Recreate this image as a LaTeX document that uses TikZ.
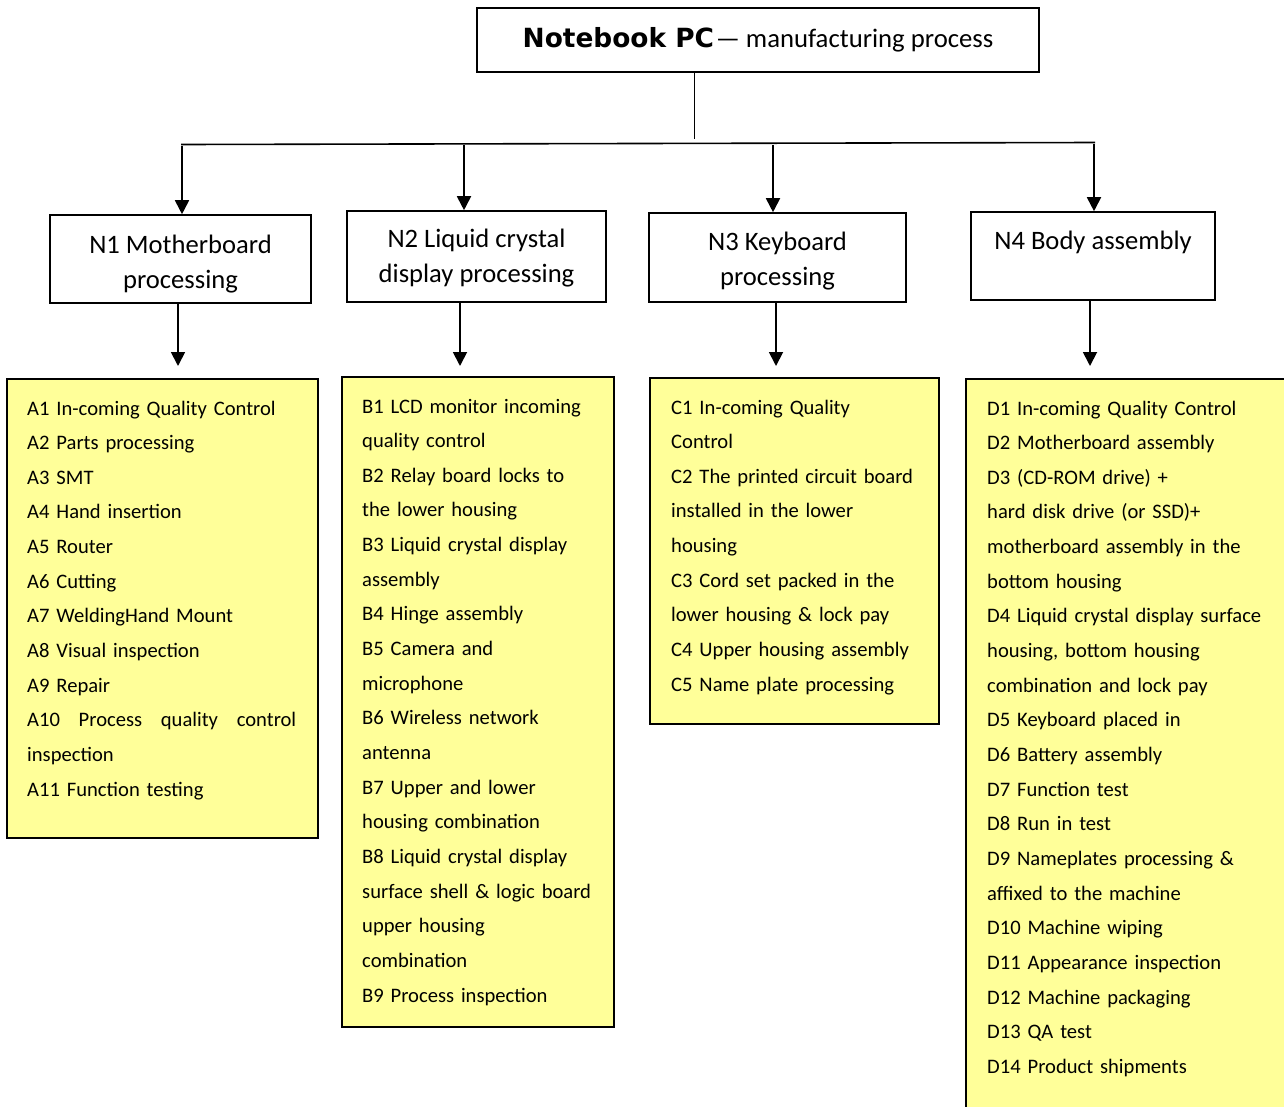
\documentclass[tikz,border=0pt]{standalone}
\usepackage{fontspec}
\setmainfont{Carlito}
\newfontfamily\titlefont{DejaVu Sans}
\usetikzlibrary{arrows.meta}
\definecolor{listyellow}{HTML}{FFFF99}
\begin{document}
\begin{tikzpicture}[x=1pt,y=-1pt,
  box/.style={draw, line width=1.6pt, inner sep=0pt},
  headbox/.style={box, fill=white},
  headtext/.style={inner sep=0pt, align=center, font=\fontsize{26.6}{35}\selectfont},
  listbox/.style={box, fill=listyellow},
  listtext/.style={anchor=base west, inner sep=0pt, text width=#1, align=left, font=\fontsize{20.6}{34.65}\selectfont},
  arr/.style={line width=1.8pt, -{Triangle[width=14pt,length=14pt]}},
  conn/.style={line width=1.6pt}]
\useasboundingbox (0,0) rectangle (1284,1106);
\clip (0,0) rectangle (1284,1106);

% title
\node[box, minimum width=562pt, minimum height=64pt] (title) at (758,40)
  {{\titlefont\bfseries\fontsize{26.4}{30}\selectfont Notebook PC}\,{\fontsize{26.7}{30}\selectfont — manufacturing process}};

% second level boxes
\node[headbox, minimum width=261pt, minimum height=88pt] (N1) at (180.5,259) {};
\node[headbox, minimum width=259pt, minimum height=91pt] (N2) at (476.5,256.5) {};
\node[headbox, minimum width=257pt, minimum height=89pt] (N3) at (777.5,257.5) {};
\node[headbox, minimum width=244pt, minimum height=88pt] (N4) at (1093,256) {};
\node[headtext] (N1t) at ([yshift=-5pt]N1.center) {N1 Motherboard\\processing};
\node[headtext] (N2t) at ([yshift=-2pt]N2.center) {N2 Liquid crystal\\display processing};
\node[headtext] (N3t) at ([yshift=-3.5pt]N3.center) {N3 Keyboard\\processing};
\node[headtext, anchor=base] (N4t) at (1093,249) {N4 Body assembly};

% list boxes
\node[listbox, minimum width=311pt, minimum height=459pt] (A) at (162.5,608.5) {};
\node[listbox, minimum width=272pt, minimum height=650pt] (B) at (478,702) {};
\node[listbox, minimum width=289pt, minimum height=346pt] (C) at (794.5,551) {};
\node[listbox, minimum width=334pt, minimum height=751pt] (D) at (1133,754.5) {};

\node[listtext=285pt] (At) at (27,415) {A1 In-coming Quality Control\\
A2 Parts processing\\
A3 SMT\\
A4 Hand insertion\\
A5 Router\\
A6 Cutting\\
A7 WeldingHand Mount\\
A8 Visual inspection\\
A9 Repair\\
\makebox[269pt][l]{A10\hfill Process\hfill quality\hfill control}\\
inspection\\
A11 Function testing};

\node[listtext=250pt] (Bt) at (362,413) {B1 LCD monitor incoming\\
quality control\\
B2 Relay board locks to\\
the lower housing\\
B3 Liquid crystal display\\
assembly\\
B4 Hinge assembly\\
B5 Camera and\\
microphone\\
B6 Wireless network\\
antenna\\
B7 Upper and lower\\
housing combination\\
B8 Liquid crystal display\\
surface shell \& logic board\\
upper housing\\
combination\\
B9 Process inspection};

\node[listtext=265pt] (Ct) at (671,414) {C1 In-coming Quality\\
Control\\
C2 The printed circuit board\\
installed in the lower\\
housing\\
C3 Cord set packed in the\\
lower housing \& lock pay\\
C4 Upper housing assembly\\
C5 Name plate processing};

\node[listtext=292pt] (Dt) at (987,415) {D1 In-coming Quality Control\\
D2 Motherboard assembly\\
D3 (CD-ROM drive) +\\
hard disk drive (or SSD)+\\
motherboard assembly in the\\
bottom housing\\
D4 Liquid crystal display surface\\
housing, bottom housing\\
combination and lock pay\\
D5 Keyboard placed in\\
D6 Battery assembly\\
D7 Function test\\
D8 Run in test\\
D9 Nameplates processing \&\\
affixed to the machine\\
D10 Machine wiping\\
D11 Appearance inspection\\
D12 Machine packaging\\
D13 QA test\\
D14 Product shipments};

% connectors
\coordinate (tdrop) at (694,139);
\coordinate (busL) at (181,144.5);
\coordinate (busR) at (1095,142.5);
\coordinate (bus1) at (182,145.5);
\coordinate (bus2) at (464,145);
\coordinate (bus3) at (773,145);
\coordinate (bus4) at (1094,144);
\draw[line width=1pt] (tdrop |- title.south) -- (tdrop);
\draw[conn] (busL) -- (busR);
\draw[arr] (bus1) -- (bus1 |- N1.north);
\draw[arr] (bus2) -- (bus2 |- N2.north);
\draw[arr] (bus3) -- (bus3 |- N3.north);
\draw[arr] (bus4) -- (bus4 |- N4.north);

\coordinate (a1) at (178,366);
\coordinate (b1) at (460,366);
\coordinate (c1) at (776,366);
\coordinate (d1) at (1090,366);
\draw[arr] (a1 |- N1.south) -- (a1);
\draw[arr] (b1 |- N2.south) -- (b1);
\draw[arr] (c1 |- N3.south) -- (c1);
\draw[arr] (d1 |- N4.south) -- (d1);
\end{tikzpicture}
\end{document}
